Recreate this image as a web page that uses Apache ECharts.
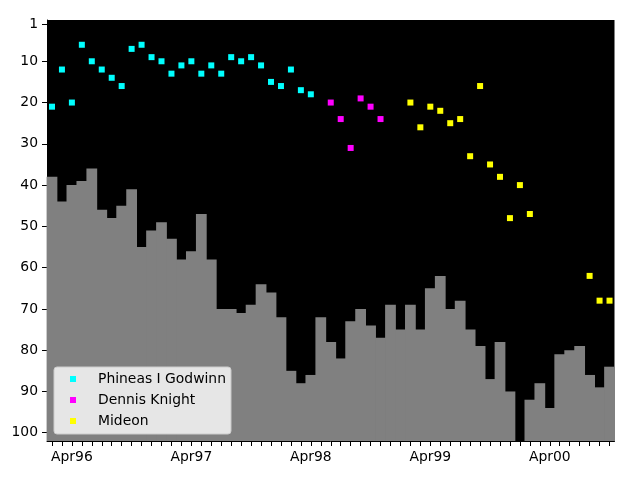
<!DOCTYPE html>
<html>
<head>
<meta charset="utf-8">
<script src="https://cdn.jsdelivr.net/npm/echarts@6/dist/echarts.min.js"></script>
<style>html,body{margin:0;padding:0;background:#fff}#c{width:640px;height:480px}</style>
</head>
<body>
<div id="c"></div>
<script>
var N = null;
var months = ["Feb96","Mar96","Apr96","May96","Jun96","Jul96","Aug96","Sep96","Oct96","Nov96","Dec96",
  "Jan97","Feb97","Mar97","Apr97","May97","Jun97","Jul97","Aug97","Sep97","Oct97","Nov97","Dec97",
  "Jan98","Feb98","Mar98","Apr98","May98","Jun98","Jul98","Aug98","Sep98","Oct98","Nov98","Dec98",
  "Jan99","Feb99","Mar99","Apr99","May99","Jun99","Jul99","Aug99","Sep99","Oct99","Nov99","Dec99",
  "Jan00","Feb00","Mar00","Apr00","May00","Jun00","Jul00","Aug00","Sep00","Oct00"];
var ranks = [38,44,40,39,36,46,48,45,41,55,51,49,53,58,56,47,58,70,70,71,69,64,66,72,85,88,86,72,78,82,
  73,70,74,77,69,75,69,75,65,62,70,68,75,79,87,78,90,N,92,88,94,81,80,79,86,89,84];
var godwinn = [21,12,20,6,10,12,14,16,7,6,9,10,13,11,10,13,11,13,9,10,9,11,15,16,12,17,18,
  N,N,N,N,N,N,N,N,N,N,N,N,N,N,N,N,N,N,N,N,N,N,N,N,N,N,N,N,N,N];
var knight = [N,N,N,N,N,N,N,N,N,N,N,N,N,N,N,N,N,N,N,N,N,N,N,N,N,N,N,N,
  20,24,31,19,21,24,
  N,N,N,N,N,N,N,N,N,N,N,N,N,N,N,N,N,N,N,N,N,N,N];
var mideon = [N,N,N,N,N,N,N,N,N,N,N,N,N,N,N,N,N,N,N,N,N,N,N,N,N,N,N,N,N,N,N,N,N,N,N,N,
  20,26,21,22,25,24,33,16,35,38,48,40,47,
  N,N,N,N,N,
  62,68,68];
var yTicks = [1,10,20,30,40,50,60,70,80,90,100];
var YMAX = 102;

function pts(arr){ var o=[]; arr.forEach(function(v,i){ if(v!=null) o.push([i,v]); }); return o; }
var font = 'DejaVu Sans';
var chart = echarts.init(document.getElementById('c'), null, {renderer:'canvas'});
chart.setOption({
  animation:false,
  backgroundColor:'#fff',
  textStyle:{fontFamily:font},
  grid:{left:47, right:25.5, top:20, bottom:39, show:true, backgroundColor:'#000', borderWidth:0},
  xAxis:{
    type:'category', data:months, boundaryGap:true,
    axisLine:{show:true, onZero:false, lineStyle:{color:'#000', width:1}},
    axisTick:{show:true, alignWithLabel:true, interval:0, length:5, lineStyle:{color:'#000'}},
    axisLabel:{interval:function(i,v){return v.indexOf('Apr')===0;}, color:'#000', fontSize:13.9, fontFamily:font, margin:9},
    splitLine:{show:false}
  },
  yAxis:{
    type:'value', inverse:true, min:0, max:YMAX,
    axisLine:{show:true, onZero:false, lineStyle:{color:'#000', width:1}},
    axisTick:{show:true, length:5, lineStyle:{color:'#000'}, customValues:yTicks},
    axisLabel:{color:'#000', fontSize:13.9, fontFamily:font, margin:9, customValues:yTicks},
    splitLine:{show:false}
  },
  legend:{
    data:['Phineas I Godwinn','Dennis Knight','Mideon'],
    orient:'vertical', left:54, top:367,
    backgroundColor:'#e6e6e6', borderColor:'#cccccc', borderWidth:1, borderRadius:3,
    padding:[4,5,5,16], itemGap:5, itemWidth:6, itemHeight:6, icon:'rect',
    textStyle:{color:'#000', fontSize:13.9, fontFamily:font, lineHeight:16, padding:[0,0,0,17]}
  },
  series:[
    {type:'custom', name:'rank', data:pts(ranks), encode:{x:0, y:1}, silent:true, z:1,
     renderItem:function(params, api){
       var idx = api.value(0), v = api.value(1);
       var top = api.coord([idx, v]);
       var bot = api.coord([idx, YMAX]);
       var w = api.size([1, 0])[0];
       return {type:'rect', shape:{x:top[0]-w/2-0.4, y:top[1], width:w+0.8, height:bot[1]-top[1]},
               style:{fill:'#808080'}};
     }},
    {type:'scatter', name:'Phineas I Godwinn', data:pts(godwinn), symbol:'rect', symbolSize:6,
     itemStyle:{color:'#00ffff', opacity:1}, z:3},
    {type:'scatter', name:'Dennis Knight', data:pts(knight), symbol:'rect', symbolSize:6,
     itemStyle:{color:'#ff00ff', opacity:1}, z:3},
    {type:'scatter', name:'Mideon', data:pts(mideon), symbol:'rect', symbolSize:6,
     itemStyle:{color:'#ffff00', opacity:1}, z:3}
  ]
});
</script>
</body>
</html>
